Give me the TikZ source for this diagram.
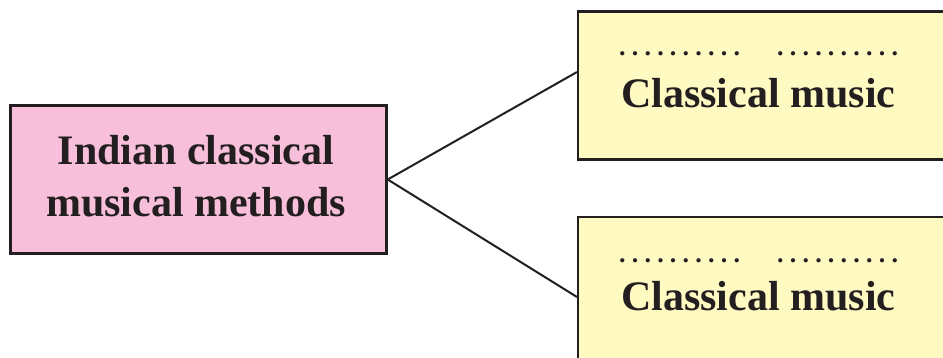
\documentclass[tikz,border=0pt]{standalone}
\usepackage{fontspec}
\setmainfont{Liberation Serif}
\definecolor{pinkfill}{HTML}{F7BFD9}
\definecolor{yellowfill}{HTML}{FFF9C2}
\definecolor{inkline}{HTML}{231F20}
\newcommand{\blankdots}{\fontsize{26}{26}\selectfont\bfseries .\hspace{6.2pt}.\hspace{6.2pt}.\hspace{6.2pt}.\hspace{6.2pt}.\hspace{6.2pt}.\hspace{6.2pt}.\hspace{6.2pt}.\hspace{6.2pt}.\hspace{6.2pt}.}
\begin{document}
\begin{tikzpicture}[x=1pt,y=-1pt,
  boxstyle/.style={draw=inkline, line width=2.4pt, rectangle, inner sep=0pt},
  bigtext/.style={font=\fontsize{42}{52}\selectfont\bfseries, text=inkline, inner sep=0pt},
  linkline/.style={draw=inkline, line width=2pt}]
\useasboundingbox (0,0) rectangle (943,358);
\clip (0,0) rectangle (943,358);
\node[boxstyle, fill=pinkfill, minimum width=376pt, minimum height=148pt] (L) at (198.5,179.5) {};
\node[bigtext, align=center] (Ltext) at (196,176) {Indian classical\\musical methods};
\node[boxstyle, fill=yellowfill, minimum width=376pt, minimum height=148pt, anchor=north west] (T) at (577,10.5) {};
\node[boxstyle, fill=yellowfill, minimum width=376pt, minimum height=150pt, anchor=north west] (B) at (577,216) {};
\node[bigtext, anchor=base west] (Ttext) at (621,108) {Classical music};
\node[bigtext, anchor=base west] (Btext) at (621,310) {Classical music};
\node[inner sep=0pt, anchor=base west, text=inkline] (Td1) at (619,56) {\blankdots};
\node[inner sep=0pt, anchor=base west, text=inkline] (Td2) at (777,56) {\blankdots};
\node[inner sep=0pt, anchor=base west, text=inkline] (Bd1) at (619,263) {\blankdots};
\node[inner sep=0pt, anchor=base west, text=inkline] (Bd2) at (777,263) {\blankdots};
\coordinate (t1) at (577,72);
\coordinate (b1) at (577,297);
\draw[linkline] (L.east) -- (t1);
\draw[linkline] (L.east) -- (b1);
\end{tikzpicture}
\end{document}
